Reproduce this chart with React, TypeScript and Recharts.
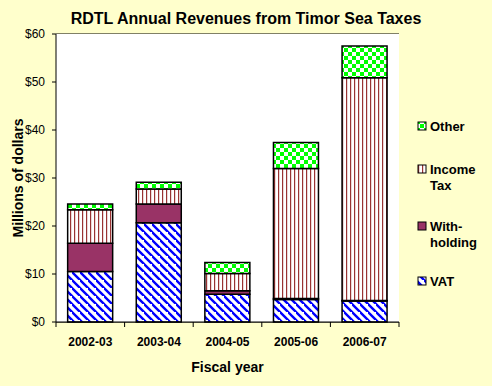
import React from 'react';
import { BarChart, Bar, XAxis, YAxis, CartesianGrid } from 'recharts';

const years = ['2002-03', '2003-04', '2004-05', '2005-06', '2006-07'];
const vat = [10.5, 20.7, 5.8, 4.7, 4.4];
const withholding = [5.9, 3.9, 0.7, 0.2, 0.1];
const incomeTax = [7.0, 3.1, 3.6, 27.1, 46.4];
const other = [1.2, 1.4, 2.3, 5.4, 6.6];
const yTicks = [0, 10, 20, 30, 40, 50, 60];

const title = 'RDTL Annual Revenues from Timor Sea Taxes';
const xTitle = 'Fiscal year';
const yTitle = 'Millions of dollars';

const legendItems = [
  { lines: ['Other'], fill: 'url(#pOther)', y: 126 },
  { lines: ['Income', 'Tax'], fill: 'url(#pIncome)', y: 169 },
  { lines: ['With-', 'holding'], fill: '#993366', y: 226 },
  { lines: ['VAT'], fill: 'url(#pVat)', y: 281 },
];

const data = years.map((year, i) => ({
  year,
  vat: vat[i],
  withholding: withholding[i],
  incomeTax: incomeTax[i],
  other: other[i],
}));

const FONT = '"Liberation Sans", Arial, sans-serif';

const XTick = (props: any) => {
  const { x, y, payload, index } = props;
  const off = payload && payload.offset ? payload.offset : 0;
  return (
    <g>
      <line x1={x - off} x2={x - off} y1={y} y2={y + 5} stroke="#000" strokeWidth={1} />
      {index === years.length - 1 && (
        <line x1={x + off} x2={x + off} y1={y} y2={y + 5} stroke="#000" strokeWidth={1} />
      )}
      <text x={x} y={y + 24} textAnchor="middle" fontFamily={FONT} fontSize={12} fontWeight="bold" fill="#000">
        {payload.value}
      </text>
    </g>
  );
};

const Patterns = () => (
  <defs>
    <pattern id="pVat" width="8" height="8" patternUnits="userSpaceOnUse">
      <rect width="8" height="8" fill="#fff" />
      <path d="M-2,-2 L10,10 M-6,2 L2,10 M6,-6 L14,2" stroke="#0000ff" strokeWidth="2.4" />
    </pattern>
    <pattern id="pIncome" width="4" height="4" patternUnits="userSpaceOnUse">
      <rect width="4" height="4" fill="#fff" />
      <rect x="2" y="0" width="1.2" height="4" fill="#993333" />
    </pattern>
    <pattern id="pOther" width="8" height="8" patternUnits="userSpaceOnUse">
      <rect width="8" height="8" fill="#fff" />
      <rect x="0" y="0" width="4" height="4" fill="#00ff00" />
      <rect x="4" y="4" width="4" height="4" fill="#00ff00" />
    </pattern>
  </defs>
);

export default function App() {
  return (
    <div style={{ position: 'absolute', left: 0, top: 0, width: 492, height: 386, background: '#ffffcc', fontFamily: FONT }}>
      <BarChart
        width={492}
        height={386}
        data={data}
        margin={{ top: 34, right: 93, bottom: 34, left: 0 }}
        barCategoryGap="17%"
      >
        <Patterns />
        <rect x={56} y={34} width={343} height={288} fill="#fff" />
        <CartesianGrid vertical={false} stroke="#000" strokeWidth={1} fill="#fff" />
        <XAxis
          dataKey="year"
          height={30}
          axisLine={{ stroke: '#000' }}
          tickLine={false}
          tickSize={0}
          tickMargin={0}
          interval={0}
          tick={<XTick />}
        />
        <YAxis
          width={56}
          domain={[0, 60]}
          ticks={yTicks}
          tickFormatter={(v: number) => `$${v}`}
          axisLine={{ stroke: '#000' }}
          tickLine={{ stroke: '#000' }}
          tickSize={4}
          tickMargin={7}
          tick={{ fill: '#000', fontSize: 12, fontFamily: FONT }}
        />
        <YAxis
          yAxisId="right"
          orientation="right"
          width={0}
          domain={[0, 60]}
          tick={false}
          tickLine={false}
          axisLine={{ stroke: '#000' }}
        />
        <Bar dataKey="vat" stackId="a" fill="url(#pVat)" stroke="#000" strokeWidth={1.5} isAnimationActive={false} />
        <Bar dataKey="withholding" stackId="a" fill="#993366" stroke="#000" strokeWidth={1.5} isAnimationActive={false} />
        <Bar dataKey="incomeTax" stackId="a" fill="url(#pIncome)" stroke="#000" strokeWidth={1.5} isAnimationActive={false} />
        <Bar dataKey="other" stackId="a" fill="url(#pOther)" stroke="#000" strokeWidth={1.5} isAnimationActive={false} />
      </BarChart>
      <svg width={492} height={386} style={{ position: 'absolute', left: 0, top: 0, pointerEvents: 'none' }}>
        <text x={246} y={24} textAnchor="middle" fontFamily={FONT} fontSize={16} fontWeight="bold" fill="#000">
          {title}
        </text>
        <text x={227.5} y={372} textAnchor="middle" fontFamily={FONT} fontSize={14} fontWeight="bold" fill="#000">
          {xTitle}
        </text>
        <text
          x={23}
          y={178}
          textAnchor="middle"
          transform="rotate(-90 23 178)"
          fontFamily={FONT}
          fontSize={14}
          fontWeight="bold"
          fill="#000"
        >
          {yTitle}
        </text>
        {legendItems.map((item) => (
          <g key={item.lines[0]}>
            <rect x={418} y={item.y - 4} width={8} height={8} fill={item.fill} stroke="#000" strokeWidth={1} />
            {item.lines.map((ln, j) => (
              <text key={ln} x={430} y={item.y + 5 + j * 16} fontFamily={FONT} fontSize={13} fontWeight="bold" fill="#000">
                {ln}
              </text>
            ))}
          </g>
        ))}
      </svg>
    </div>
  );
}
